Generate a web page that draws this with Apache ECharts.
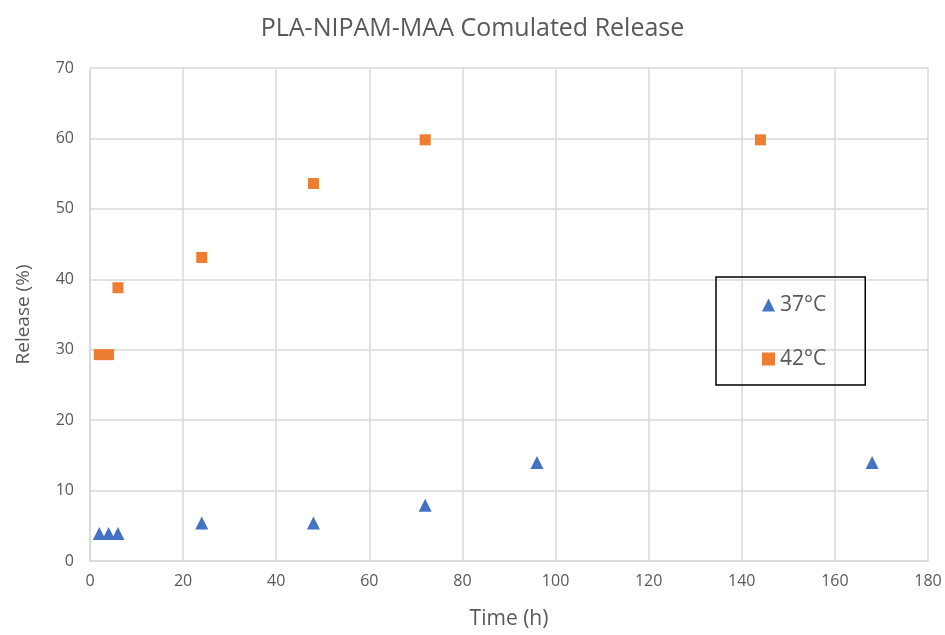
<!DOCTYPE html>
<html>
<head>
<meta charset="utf-8">
<script src="https://cdn.jsdelivr.net/npm/echarts@6/dist/echarts.min.js"></script>
<style>
  html, body { margin: 0; padding: 0; background: #fff; }
  #chart { width: 945px; height: 635px; }
</style>
</head>
<body>
<div id="chart"></div>
<script>
// data
const time37 = [2, 4, 6, 24, 48, 72, 96, 168];
const release37 = [3.9, 3.9, 3.9, 5.4, 5.4, 7.9, 14.0, 14.0];
const time42 = [2, 4, 6, 24, 48, 72, 144];
const release42 = [29.3, 29.3, 38.8, 43.1, 53.6, 59.8, 59.8];

const txt = '#595959';
const gridCol = '#d9d9d9';

const chart = echarts.init(document.getElementById('chart'));
chart.setOption({
  animation: false,
  textStyle: { fontFamily: 'Open Sans' },
  title: {
    text: 'PLA-NIPAM-MAA Comulated Release',
    left: 'center',
    top: 11,
    textStyle: { color: txt, fontSize: 25, fontWeight: 'normal' }
  },
  grid: { left: 90, right: 17, top: 68, bottom: 71 },
  xAxis: {
    type: 'value',
    min: 0, max: 180, interval: 20,
    name: 'Time (h)',
    nameLocation: 'middle',
    nameGap: 48,
    nameTextStyle: { color: txt, fontSize: 21 },
    axisLine: { show: true, lineStyle: { color: gridCol, width: 1.5 } },
    axisTick: { show: false },
    axisLabel: { color: txt, fontSize: 16, margin: 12 },
    splitLine: { show: true, lineStyle: { color: gridCol, width: 1.5 } }
  },
  yAxis: {
    type: 'value',
    min: 0, max: 70, interval: 10,
    name: 'Release (%)',
    nameLocation: 'middle',
    nameGap: 57,
    nameTextStyle: { color: txt, fontSize: 19 },
    axisLine: { show: true, lineStyle: { color: gridCol, width: 1.5 } },
    axisTick: { show: false },
    axisLabel: { color: txt, fontSize: 16, margin: 16 },
    splitLine: { show: true, lineStyle: { color: gridCol, width: 1.5 } }
  },
  legend: {
    orient: 'vertical',
    left: 716,
    top: 277,
    padding: [16, 39, 14, 46],
    itemGap: 30,
    itemWidth: 13,
    itemHeight: 13,
    itemStyle: { opacity: 1 },
    borderColor: '#000',
    borderWidth: 1.5,
    textStyle: { color: txt, fontSize: 21, lineHeight: 24 },
    data: [
      { name: '37°C', icon: 'triangle' },
      { name: '42°C', icon: 'rect' }
    ]
  },
  series: [
    {
      name: '37°C',
      type: 'scatter',
      symbol: 'triangle',
      symbolSize: 13,
      itemStyle: { color: '#4472C4', opacity: 1 },
      data: time37.map((t, i) => [t, release37[i]])
    },
    {
      name: '42°C',
      type: 'scatter',
      symbol: 'rect',
      symbolSize: 11,
      itemStyle: { color: '#ED7D31', opacity: 1 },
      data: time42.map((t, i) => [t, release42[i]])
    }
  ]
});
</script>
</body>
</html>
